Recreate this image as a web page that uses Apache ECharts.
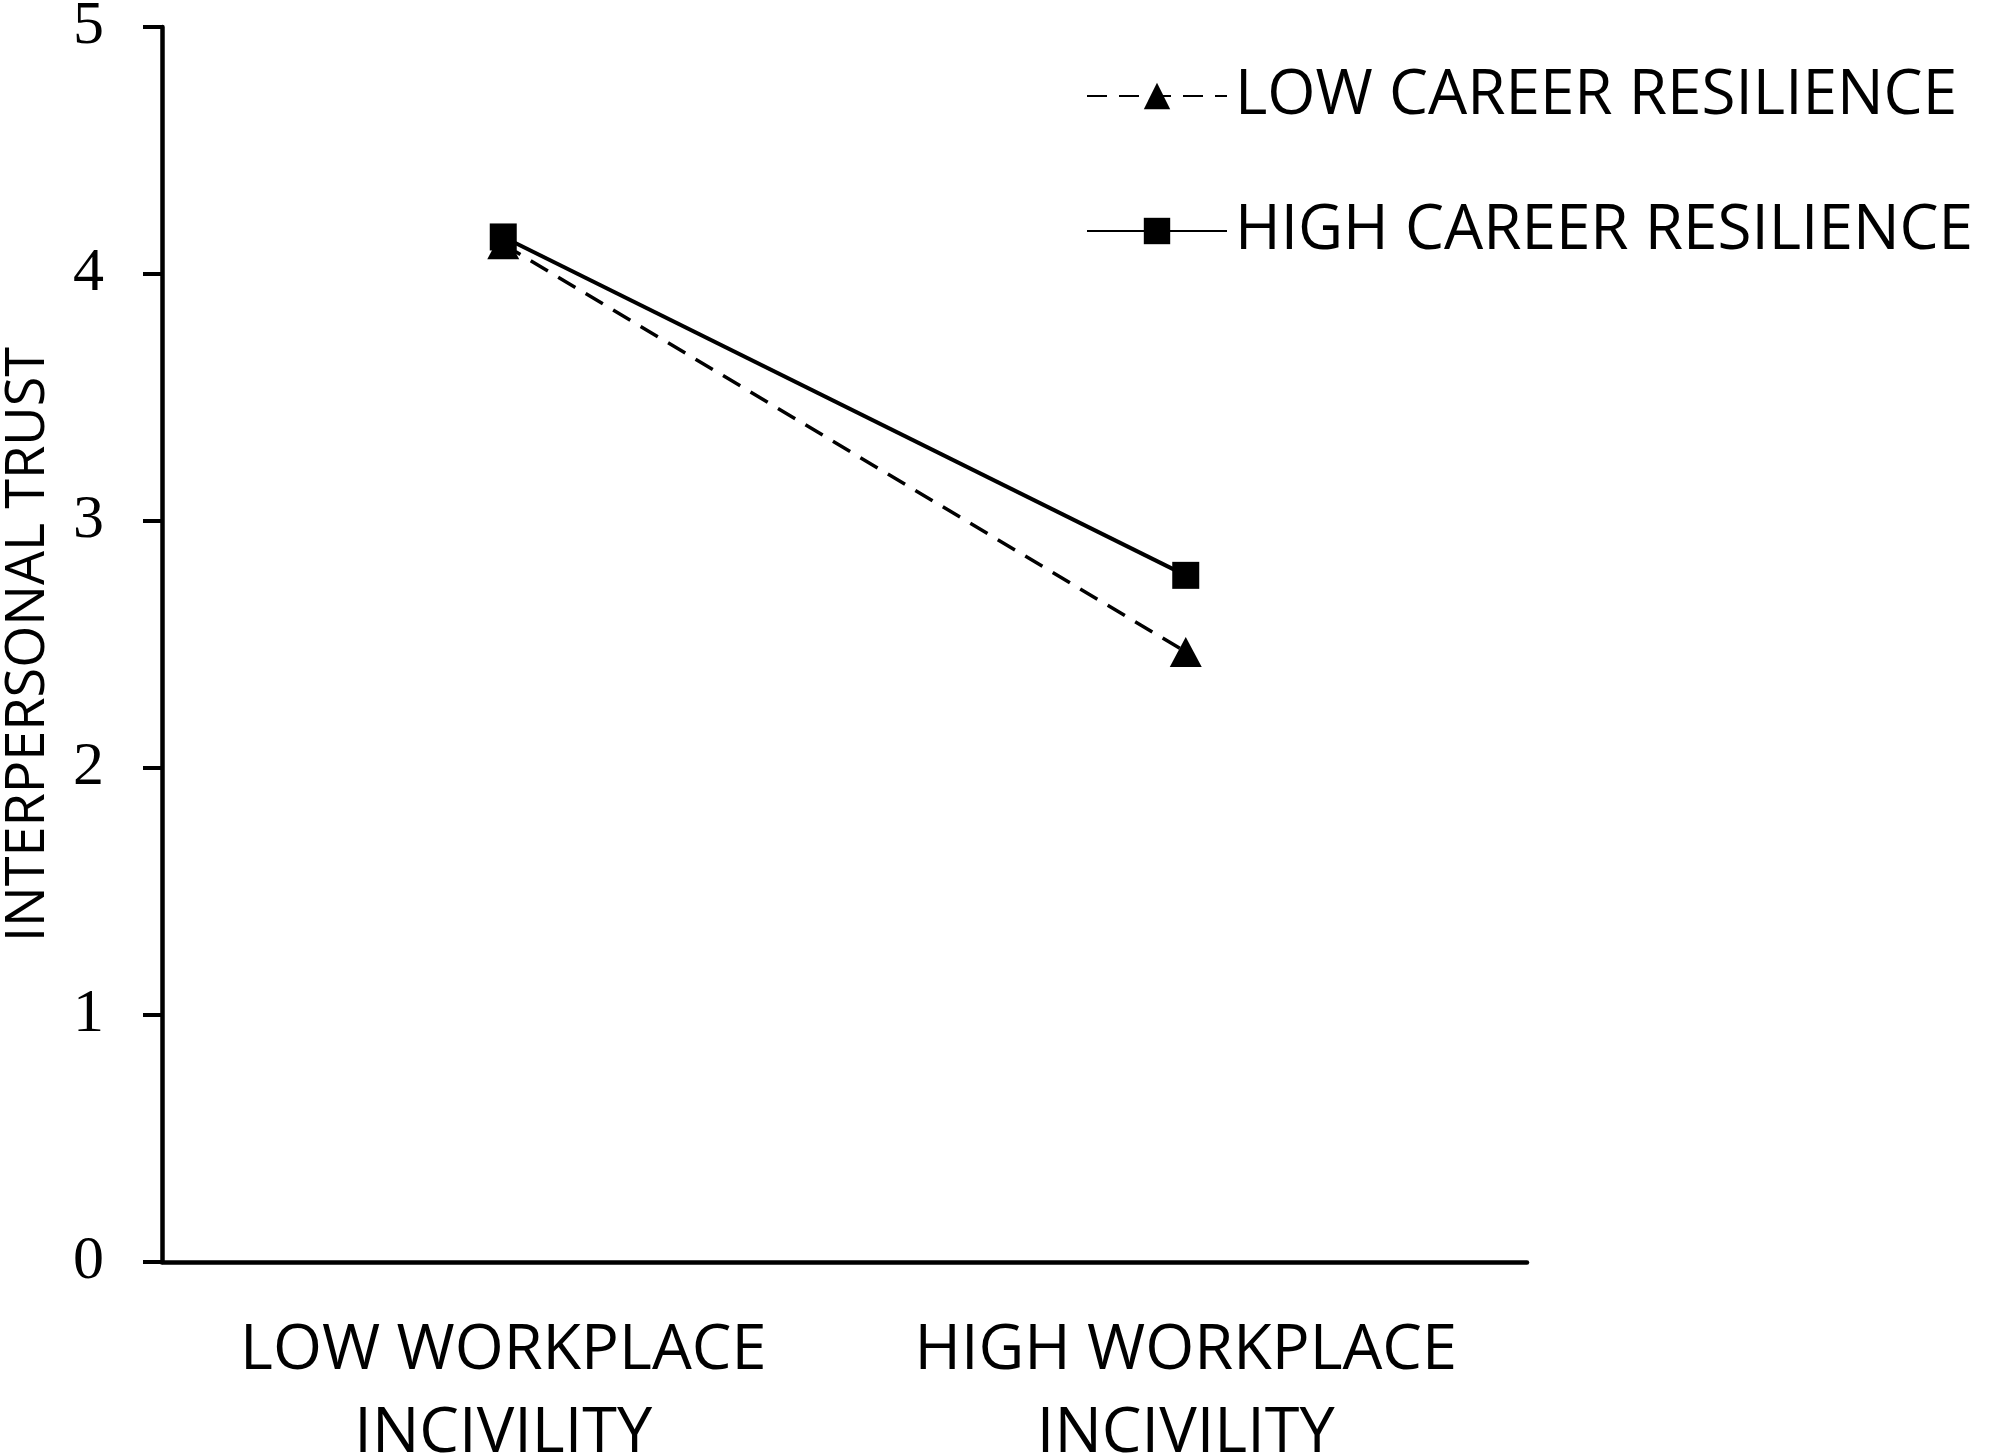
<!DOCTYPE html>
<html>
<head>
<meta charset="utf-8">
<script src="https://cdn.jsdelivr.net/npm/echarts@6/dist/echarts.min.js"></script>
<style>
  html, body { margin: 0; padding: 0; background: #fff; }
  #chart { width: 1995px; height: 1453px; }
</style>
</head>
<body>
<div id="chart"></div>
<script>
// categories on the x axis
const categories = ["LOW WORKPLACE\nINCIVILITY", "HIGH WORKPLACE\nINCIVILITY"];
// series values
const lowResilience = [4.12, 2.47];
const highResilience = [4.15, 2.78];
const seriesNames = ["LOW CAREER RESILIENCE", "HIGH CAREER RESILIENCE"];
// y axis range
const yMin = 0;
const yMax = 5;
const yStep = 1;

const sansFont = "'Open Sans', 'Noto Sans', sans-serif";
const serifFont = "'Liberation Serif', 'DejaVu Serif', serif";

const chart = echarts.init(document.getElementById("chart"));

const options = {
  backgroundColor: "#fff",
  animation: false,
  grid: {
    left: 162,
    right: 468,
    top: 27,
    bottom: 191,
    containLabel: false,
    outerBoundsMode: "none",
  },
  legend: {
    orient: "vertical",
    left: 1081,
    top: 60,
    itemWidth: 140,
    itemHeight: 33,
    itemGap: 73,
    textStyle: {
      fontFamily: sansFont,
      fontSize: 62,
      color: "#000",
      lineHeight: 62,
      padding: [0, 0, 0, 3],
    },
    data: seriesNames,
  },
  xAxis: {
    type: "category",
    data: categories,
    boundaryGap: true,
    axisLine: { lineStyle: { color: "#000", width: 4.5 } },
    axisTick: { interval: 0, length: 20, lineStyle: { color: "#000", width: 4 } },
    axisLabel: {
      interval: 0,
      margin: 48,
      fontFamily: sansFont,
      fontSize: 63,
      lineHeight: 83,
      color: "#000",
    },
  },
  yAxis: {
    type: "value",
    min: yMin,
    max: yMax,
    interval: yStep,
    name: "INTERPERSONAL TRUST",
    nameLocation: "middle",
    nameGap: 106,
    nameRotate: 90,
    nameTextStyle: {
      fontFamily: sansFont,
      fontSize: 54,
      color: "#000",
    },
    splitLine: { show: false },
    axisLine: { show: true, lineStyle: { color: "#000", width: 4.5 } },
    axisTick: { show: true, length: 19, lineStyle: { color: "#000", width: 4 } },
    axisLabel: {
      margin: 58,
      fontFamily: serifFont,
      fontSize: 62,
      color: "#000",
    },
  },
  series: [
    {
      name: seriesNames[0],
      type: "line",
      data: lowResilience,
      symbol: "triangle",
      symbolSize: [32, 30],
      lineStyle: { color: "#000", width: 3.5, type: [20, 12] },
      itemStyle: { color: "#000" },
      z: 2,
    },
    {
      name: seriesNames[1],
      type: "line",
      data: highResilience,
      symbol: "rect",
      symbolSize: [27, 27],
      lineStyle: { color: "#000", width: 4, type: "solid" },
      itemStyle: { color: "#000" },
      z: 3,
    },
  ],
};

chart.setOption(options);
</script>
</body>
</html>
